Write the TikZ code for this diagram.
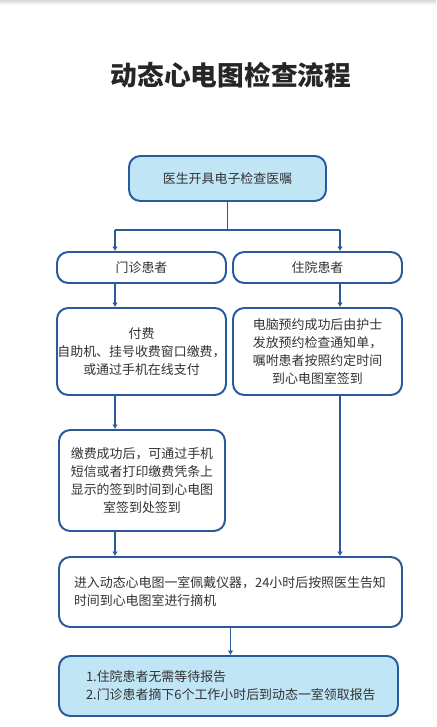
\documentclass[tikz,border=0pt]{standalone}
\usepackage{fontspec}
\setmainfont{Noto Sans CJK SC}
\usepackage{tikz}
\usetikzlibrary{
    arrows.meta,
    calc
}

\definecolor{boxline}{HTML}{2A5A9A}
\definecolor{boxfill}{HTML}{C0E6F6}
\definecolor{textgray}{HTML}{333333}

% one pixel of the layout
\newdimen\px
\px=0.025cm

\tikzset{
    flowbox/.style={draw=boxline, line width=1.4pt, rounded corners=8pt,
        fill=white, text=textgray, align=center, inner sep=0pt,
        font=\fontsize{9.2}{12.8}\selectfont},
    flowarrow/.style={draw=boxline, line width=1.4pt,
        -{Latex[length=3.2pt,width=4pt]}},
    flowline/.style={draw=boxline, line width=1.4pt}
}

\begin{document}
\begin{tikzpicture}[x=0.025cm,y=-0.025cm]

\useasboundingbox (0,0) rectangle (436,727);

% Shadow at top edge
\shade[top color=gray!30, bottom color=white] (0,0) rectangle (436,5);

% Title
\node[font=\fontsize{19}{22}\selectfont\bfseries, text=black!85] (title) at (231,75) {动态心电图检查流程};

% Order
\node[flowbox, fill=boxfill, minimum width=197\px, minimum height=45\px] (order) at (227.5,178.5) {医生开具电子检查医嘱};

% Two kinds of patients
\node[flowbox, minimum width=169\px, minimum height=31\px] (outp) at (141.5,267.5) {门诊患者};
\node[flowbox, minimum width=169\px, minimum height=31\px] (inp) at (317.5,267.5) {住院患者};

% Payment and appointment
\node[flowbox, minimum width=169\px, minimum height=87\px] (pay) at (141.5,351.5)
    {付费\\自助机、挂号收费窗口缴费，\\或通过手机在线支付};
\node[flowbox, minimum width=169\px, minimum height=87\px] (appt) at (317.5,351.5)
    {电脑预约成功后由护士\\发放预约检查通知单，\\嘱咐患者按照约定时间\\到心电图室签到};

% Check in
\node[flowbox, minimum width=166\px, minimum height=101\px] (checkin) at (142,480.5)
    {缴费成功后，可通过手机\\短信或者打印缴费凭条上\\显示的签到时间到心电图\\室签到处签到};

% Wearing the device
\node[flowbox, minimum width=343\px, minimum height=70\px, text width=313\px, align=left] (wear) at (230.5,592)
    {进入动态心电图一室佩戴仪器，24小时后按照医生告知\\时间到心电图室进行摘机};

% Report
\node[flowbox, fill=boxfill, minimum width=339\px, minimum height=60\px, text width=285\px, align=left] (report) at (228.5,686)
    {1.住院患者无需等待报告\\2.门诊患者摘下6个工作小时后到动态一室领取报告};

% Split below the order
\coordinate (sl) at (115,230);
\coordinate (sr) at (340,230);
\draw[flowline] (order.south) -- (order.south |- sl);
\draw[flowline] (sl) -- (sr);
\draw[flowarrow] (sl) -- (sl |- outp.north);
\draw[flowarrow] (sr) -- (sr |- inp.north);

% Left column
\draw[flowarrow] (sl |- outp.south) -- (sl |- pay.north);
\draw[flowarrow] (sl |- pay.south) -- (sl |- checkin.north);
\draw[flowarrow] (sl |- checkin.south) -- (sl |- wear.north);

% Right column
\draw[flowarrow] (sr |- inp.south) -- (sr |- appt.north);
\draw[flowarrow] (sr |- appt.south) -- (sr |- wear.north);

% To the report
\draw[flowarrow] (wear.south) -- (wear.south |- report.north);

\end{tikzpicture}
\end{document}
